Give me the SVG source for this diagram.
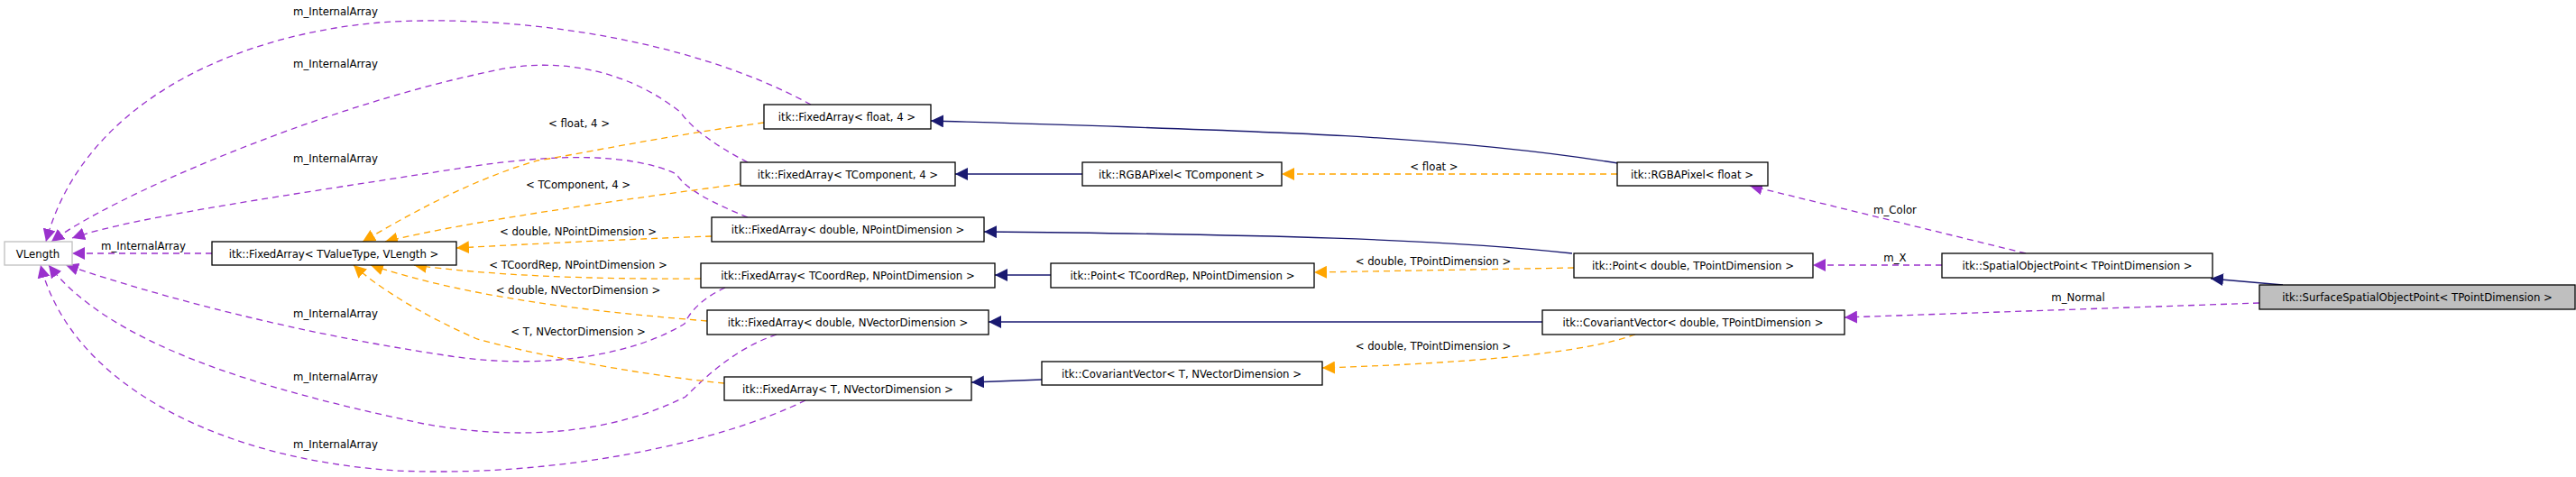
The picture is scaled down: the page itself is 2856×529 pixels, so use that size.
<svg xmlns="http://www.w3.org/2000/svg" width="2856" height="529" viewBox="0 0 2856 529">
<style>
text{font-family:"DejaVu Sans Condensed","DejaVu Sans","Liberation Sans Narrow",sans-serif;font-size:13px;fill:#000}
.n rect{fill:#fff;stroke:#000;stroke-width:1.3}
.n text{text-anchor:middle}
.l{text-anchor:middle}
.p{fill:none;stroke:#9a32cd;stroke-width:1.3;stroke-dasharray:7,5;marker-end:url(#mp)}
.o{fill:none;stroke:#ffa500;stroke-width:1.3;stroke-dasharray:7,5;marker-end:url(#mo)}
.b{fill:none;stroke:#191970;stroke-width:1.3;marker-end:url(#mb)}
</style>
<defs>
<marker id="mp" viewBox="0 0 10 10" refX="10" refY="5" markerWidth="14" markerHeight="14" markerUnits="userSpaceOnUse" orient="auto"><path d="M0,0L10,5L0,10z" fill="#9a32cd"/></marker>
<marker id="mo" viewBox="0 0 10 10" refX="10" refY="5" markerWidth="14" markerHeight="14" markerUnits="userSpaceOnUse" orient="auto"><path d="M0,0L10,5L0,10z" fill="#ffa500"/></marker>
<marker id="mb" viewBox="0 0 10 10" refX="10" refY="5" markerWidth="14" markerHeight="14" markerUnits="userSpaceOnUse" orient="auto"><path d="M0,0L10,5L0,10z" fill="#191970"/></marker>
</defs>
<g id="edges">
<path class="p" d="M899,116 C760,40 560,15 420,25 C250,40 90,120 51,268"/>
<path class="p" d="M829,180 C790,160 765,140 755,125 C700,80 620,60 540,80 C350,120 120,220 57,268"/>
<path class="p" d="M829,241 C790,225 760,210 750,193 C700,170 620,170 520,185 C330,215 150,240 80,264"/>
<path class="p" d="M804,319 C780,330 765,345 759,359 C700,395 600,410 500,395 C330,370 180,330 73,294"/>
<path class="p" d="M861,371 C820,385 790,410 760,440 C680,480 580,490 470,470 C280,430 120,380 54,294"/>
<path class="p" d="M893,444 C800,490 620,530 440,522 C250,510 80,430 45,294"/>
<path class="p" d="M235,281 L80,281"/>
<path class="o" d="M847,136 C740,150 620,175 596,178 C520,200 450,240 402,268"/>
<path class="o" d="M821,204 C700,220 520,245 427,268"/>
<path class="o" d="M789,262 C700,265 600,270 506,275"/>
<path class="o" d="M777,309 C650,310 540,305 459,294"/>
<path class="o" d="M784,356 C650,345 520,330 411,294"/>
<path class="o" d="M803,425 C700,415 580,390 529,376 C470,350 420,320 392,294"/>
<path class="o" d="M1793,193 L1421,193"/>
<path class="o" d="M1745,297 L1457,302"/>
<path class="o" d="M1813,371 C1760,390 1650,402 1466,408"/>
<path class="b" d="M1794,181 C1600,150 1400,145 1032,134"/>
<path class="b" d="M1200,193 L1059,193"/>
<path class="b" d="M1743,281 C1600,265 1400,260 1091,257"/>
<path class="b" d="M1165,305 L1103,305"/>
<path class="b" d="M1710,357 L1096,357"/>
<path class="b" d="M1155,421 L1077,424"/>
<path class="b" d="M2531,316 L2451,309"/>
<path class="p" d="M2246,281 L1940,206"/>
<path class="p" d="M2153,294 L2010,294"/>
<path class="p" d="M2505,336 L2045,352"/>
</g>
<g id="labels">
<text class="l" x="372" y="17">m_InternalArray</text>
<text class="l" x="372" y="75">m_InternalArray</text>
<text class="l" x="372" y="180">m_InternalArray</text>
<text class="l" x="372" y="352">m_InternalArray</text>
<text class="l" x="372" y="422">m_InternalArray</text>
<text class="l" x="372" y="497">m_InternalArray</text>
<text class="l" x="159" y="277">m_InternalArray</text>
<text class="l" x="642" y="141">&lt; float, 4 &gt;</text>
<text class="l" x="641" y="209">&lt; TComponent, 4 &gt;</text>
<text class="l" x="641" y="261">&lt; double, NPointDimension &gt;</text>
<text class="l" x="641" y="298">&lt; TCoordRep, NPointDimension &gt;</text>
<text class="l" x="641" y="326">&lt; double, NVectorDimension &gt;</text>
<text class="l" x="641" y="372">&lt; T, NVectorDimension &gt;</text>
<text class="l" x="1590" y="189">&lt; float &gt;</text>
<text class="l" x="1589" y="294">&lt; double, TPointDimension &gt;</text>
<text class="l" x="1589" y="388">&lt; double, TPointDimension &gt;</text>
<text class="l" x="2101" y="237">m_Color</text>
<text class="l" x="2101" y="290">m_X</text>
<text class="l" x="2304" y="334">m_Normal</text>
</g>
<g id="vlength" class="n"><rect x="5" y="268" width="75" height="26" style="stroke:#bfbfbf"/><text x="42" y="286">VLength</text></g>
<g id="fa_tv" class="n"><rect x="235" y="268" width="271" height="26"/><text x="370" y="286">itk::FixedArray&lt; TValueType, VLength &gt;</text></g>
<g id="fa_f4" class="n"><rect x="847" y="116" width="185" height="27"/><text x="939" y="134">itk::FixedArray&lt; float, 4 &gt;</text></g>
<g id="fa_tc4" class="n"><rect x="821" y="180" width="238" height="26"/><text x="940" y="198">itk::FixedArray&lt; TComponent, 4 &gt;</text></g>
<g id="fa_dnp" class="n"><rect x="789" y="241" width="302" height="27"/><text x="940" y="259">itk::FixedArray&lt; double, NPointDimension &gt;</text></g>
<g id="fa_tcnp" class="n"><rect x="777" y="292" width="326" height="27"/><text x="940" y="310">itk::FixedArray&lt; TCoordRep, NPointDimension &gt;</text></g>
<g id="fa_dnv" class="n"><rect x="784" y="344" width="312" height="27"/><text x="940" y="362">itk::FixedArray&lt; double, NVectorDimension &gt;</text></g>
<g id="fa_tnv" class="n"><rect x="803" y="418" width="274" height="26"/><text x="940" y="436">itk::FixedArray&lt; T, NVectorDimension &gt;</text></g>
<g id="rgba_tc" class="n"><rect x="1200" y="180" width="221" height="26"/><text x="1310" y="198">itk::RGBAPixel&lt; TComponent &gt;</text></g>
<g id="rgba_f" class="n"><rect x="1793" y="180" width="167" height="26"/><text x="1876" y="198">itk::RGBAPixel&lt; float &gt;</text></g>
<g id="pt_tc" class="n"><rect x="1165" y="292" width="292" height="27"/><text x="1311" y="310">itk::Point&lt; TCoordRep, NPointDimension &gt;</text></g>
<g id="pt_d" class="n"><rect x="1745" y="281" width="265" height="27"/><text x="1877" y="299">itk::Point&lt; double, TPointDimension &gt;</text></g>
<g id="cv_d" class="n"><rect x="1710" y="344" width="335" height="27"/><text x="1877" y="362">itk::CovariantVector&lt; double, TPointDimension &gt;</text></g>
<g id="cv_t" class="n"><rect x="1155" y="401" width="311" height="26"/><text x="1310" y="419">itk::CovariantVector&lt; T, NVectorDimension &gt;</text></g>
<g id="sop" class="n"><rect x="2153" y="281" width="300" height="27"/><text x="2303" y="299">itk::SpatialObjectPoint&lt; TPointDimension &gt;</text></g>
<g id="ssop" class="n"><rect x="2505" y="316" width="350" height="27" style="fill:#bfbfbf"/><text x="2680" y="334">itk::SurfaceSpatialObjectPoint&lt; TPointDimension &gt;</text></g>
</svg>
